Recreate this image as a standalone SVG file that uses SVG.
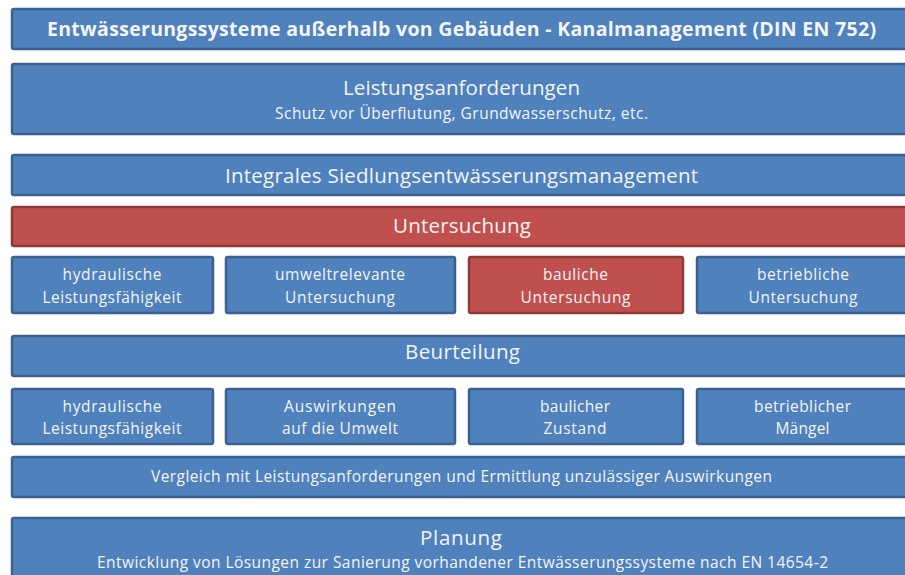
<svg xmlns="http://www.w3.org/2000/svg" width="905" height="575" viewBox="0 0 905 575">
<style>
.b{fill:#4F81BD;stroke:#3A6190;stroke-width:2.5}
.r{fill:#C0504D;stroke:#8F3A37;stroke-width:2.5}
text{font-family:"Open Sans","Liberation Sans",sans-serif;fill:#F4F4F4;text-anchor:middle}
.t{font-weight:bold;font-size:19.5px}
.h{font-size:20.5px}
.s{font-size:15.5px}
</style>
<rect width="905" height="575" fill="#FFFFFF"/>
<g id="title"><rect class="b" x="12" y="9" width="905" height="40" rx="2"/><text class="t" x="461.5" y="36" textLength="829" lengthAdjust="spacing">Entwässerungssysteme außerhalb von Gebäuden - Kanalmanagement (DIN EN 752)</text></g>
<g id="leistungsanforderungen"><rect class="b" x="12" y="64" width="905" height="70" rx="2"/><text class="h" x="461.5" y="95" textLength="237" lengthAdjust="spacing">Leistungsanforderungen</text><text class="s" x="461.5" y="119" textLength="373" lengthAdjust="spacing">Schutz vor Überflutung, Grundwasserschutz, etc.</text></g>
<g id="integrales"><rect class="b" x="12" y="155" width="905" height="40" rx="2"/><text class="h" x="461.5" y="183" textLength="473" lengthAdjust="spacing">Integrales Siedlungsentwässerungsmanagement</text></g>
<g id="untersuchung"><rect class="r" x="12" y="207" width="905" height="39" rx="2"/><text class="h" x="462" y="233" textLength="138" lengthAdjust="spacing">Untersuchung</text></g>
<g id="u1"><rect class="b" x="12" y="257" width="201" height="56" rx="2"/><text class="s" x="112" y="280" textLength="99" lengthAdjust="spacing">hydraulische</text><text class="s" x="112" y="303" textLength="139" lengthAdjust="spacing">Leistungsfähigkeit</text></g>
<g id="u2"><rect class="b" x="226" y="257" width="229" height="56" rx="2"/><text class="s" x="340" y="280" textLength="130" lengthAdjust="spacing">umweltrelevante</text><text class="s" x="340" y="303" textLength="110" lengthAdjust="spacing">Untersuchung</text></g>
<g id="u3"><rect class="r" x="469" y="257" width="214" height="56" rx="2"/><text class="s" x="575.5" y="280" textLength="65" lengthAdjust="spacing">bauliche</text><text class="s" x="575.5" y="303" textLength="110" lengthAdjust="spacing">Untersuchung</text></g>
<g id="u4"><rect class="b" x="697" y="257" width="220" height="56" rx="2"/><text class="s" x="803" y="280" textLength="92" lengthAdjust="spacing">betriebliche</text><text class="s" x="803" y="303" textLength="109" lengthAdjust="spacing">Untersuchung</text></g>
<g id="beurteilung"><rect class="b" x="12" y="336" width="905" height="40" rx="2"/><text class="h" x="462.5" y="359" textLength="115" lengthAdjust="spacing">Beurteilung</text></g>
<g id="b1"><rect class="b" x="12" y="389" width="201" height="55" rx="2"/><text class="s" x="112" y="412" textLength="99" lengthAdjust="spacing">hydraulische</text><text class="s" x="112" y="434" textLength="139" lengthAdjust="spacing">Leistungsfähigkeit</text></g>
<g id="b2"><rect class="b" x="226" y="389" width="229" height="55" rx="2"/><text class="s" x="340" y="412" textLength="112" lengthAdjust="spacing">Auswirkungen</text><text class="s" x="340" y="434" textLength="116" lengthAdjust="spacing">auf die Umwelt</text></g>
<g id="b3"><rect class="b" x="469" y="389" width="214" height="55" rx="2"/><text class="s" x="575" y="412" textLength="70" lengthAdjust="spacing">baulicher</text><text class="s" x="575" y="434" textLength="63" lengthAdjust="spacing">Zustand</text></g>
<g id="b4"><rect class="b" x="697" y="389" width="220" height="55" rx="2"/><text class="s" x="802.5" y="412" textLength="97" lengthAdjust="spacing">betrieblicher</text><text class="s" x="802.5" y="434" textLength="54" lengthAdjust="spacing">Mängel</text></g>
<g id="vergleich"><rect class="b" x="12" y="457" width="905" height="40" rx="2"/><text class="s" x="461.5" y="482" textLength="621" lengthAdjust="spacing">Vergleich mit Leistungsanforderungen und Ermittlung unzulässiger Auswirkungen</text></g>
<g id="planung"><rect class="b" x="12" y="518" width="905" height="80" rx="2"/><text class="h" x="461" y="545" textLength="82" lengthAdjust="spacing">Planung</text><text class="s" x="462.5" y="568" textLength="731" lengthAdjust="spacing">Entwicklung von Lösungen zur Sanierung vorhandener Entwässerungssysteme nach EN 14654-2</text></g>
<g id="connectors"></g>
</svg>
